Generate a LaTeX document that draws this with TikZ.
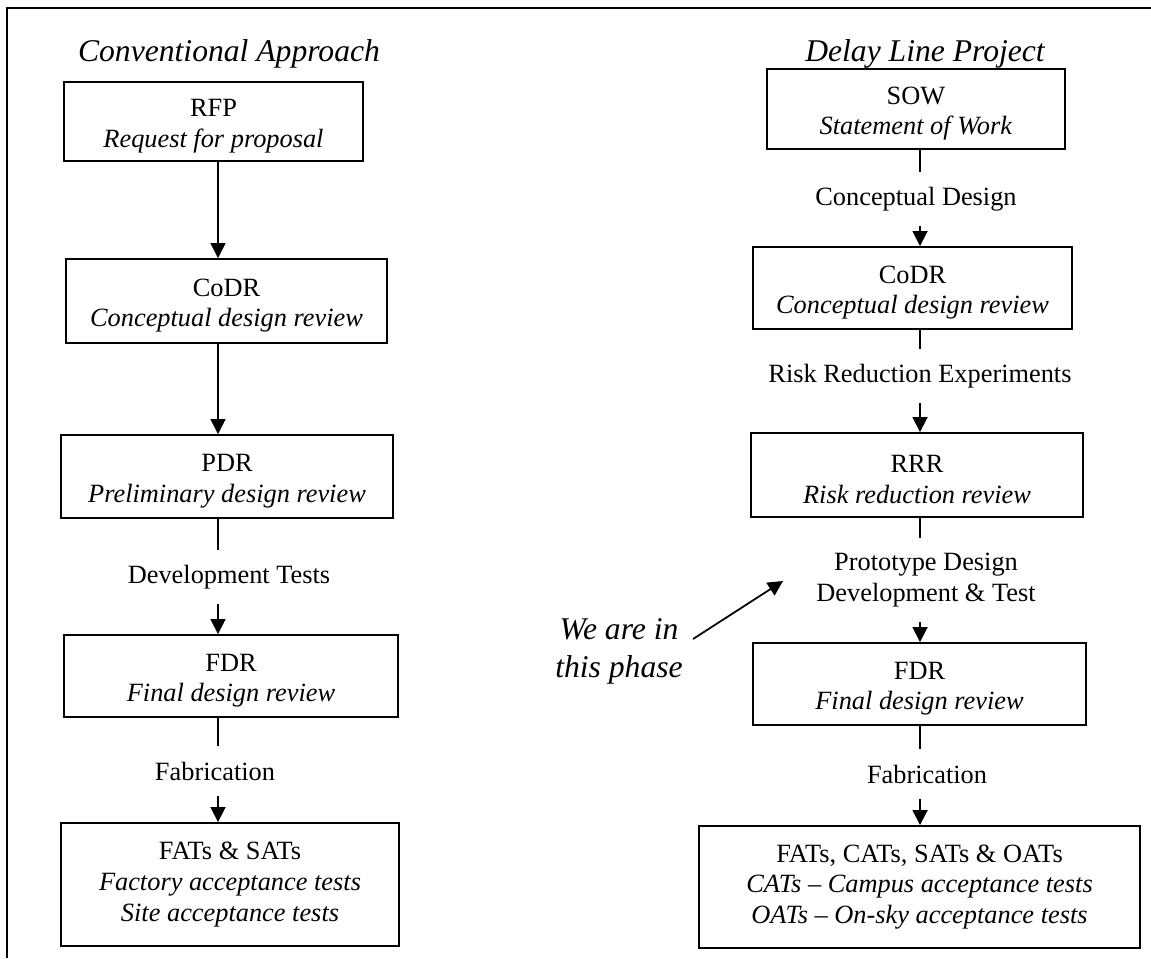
\documentclass[tikz,border=0pt]{standalone}
\usepackage{fontspec}
\setmainfont{Liberation Serif}
\usetikzlibrary{arrows.meta}

\newcommand{\revtop}{\rule{0pt}{15pt}}

\begin{document}
\begin{tikzpicture}[x=0.02cm, y=-0.02cm,
	>={Triangle[length=0.3cm,width=0.3cm]},
	stage/.style={draw, line width=1.1pt, align=center, inner sep=0pt,
		font=\fontsize{15}{17.4}\selectfont},
	activity/.style={align=center, inner xsep=0pt, inner ysep=0.3cm,
		font=\fontsize{15}{17.4}\selectfont},
	heading/.style={inner sep=0pt, font=\fontsize{18}{21.6}\selectfont\itshape},
	flow/.style={line width=1pt}]

% frame %{{{2

	\useasboundingbox (0,0) rectangle (1151,958);
	\draw[line width=1.1pt] (7,958) -- (7,8) -- (1151,8);

	\coordinate (spineL) at (218,0);
	\coordinate (spineR) at (920,0);

% conventional approach %{{{2

	\node[heading] (headL) at (229,54) {Conventional Approach};

	\node[stage, minimum width=5.98cm, minimum height=1.58cm] (RFP) at (213.5,121.5)
		{\revtop RFP\\ \textit{Request for proposal}};
	\node[stage, minimum width=6.42cm, minimum height=1.68cm] (CoDRl) at (226.5,301)
		{\revtop CoDR\\ \textit{Conceptual design review}};
	\node[stage, minimum width=6.64cm, minimum height=1.66cm] (PDR) at (227,476.5)
		{\revtop PDR\\ \textit{Preliminary design review}};
	\node[activity] (devL) at (229,577) {Development Tests};
	\node[stage, minimum width=6.68cm, minimum height=1.64cm] (FDRl) at (231,676)
		{\revtop FDR\\ \textit{Final design review}};
	\node[activity] (fabL) at (215,771) {Fabrication};
	\node[stage, minimum width=6.76cm, minimum height=2.46cm] (FATl) at (230,884.5)
		{FATs \& SATs\\ \textit{Factory acceptance tests}\\ \textit{Site acceptance tests}};

	\draw[flow, ->] (RFP.south -| spineL) -- (CoDRl.north -| spineL);
	\draw[flow, ->] (CoDRl.south -| spineL) -- (PDR.north -| spineL);
	\draw[flow] (PDR.south -| spineL) -- (devL.north -| spineL);
	\draw[flow, ->] (devL.south -| spineL) -- (FDRl.north -| spineL);
	\draw[flow] (FDRl.south -| spineL) -- (fabL.north -| spineL);
	\draw[flow, ->] (fabL.south -| spineL) -- (FATl.north -| spineL);

% delay line project %{{{2

	\node[heading] (headR) at (925,54) {Delay Line Project};

	\node[stage, minimum width=5.96cm, minimum height=1.6cm] (SOW) at (916,109)
		{\revtop SOW\\ \textit{Statement of Work}};
	\node[activity] (concR) at (916,199) {Conceptual Design};
	\node[stage, minimum width=6.38cm, minimum height=1.64cm] (CoDRr) at (912.5,288)
		{\revtop CoDR\\ \textit{Conceptual design review}};
	\node[activity] (riskR) at (920,376) {Risk Reduction Experiments};
	\node[stage, minimum width=6.64cm, minimum height=1.68cm] (RRR) at (917,475)
		{\revtop RRR\\ \textit{Risk reduction review}};
	\node[activity] (protoR) at (926,580) {Prototype Design\\ Development \& Test};
	\node[stage, minimum width=6.66cm, minimum height=1.64cm] (FDRr) at (919.5,684)
		{\revtop FDR\\ \textit{Final design review}};
	\node[activity] (fabR) at (927,774) {Fabrication};
	\node[stage, minimum width=8.82cm, minimum height=2.44cm] (FATr) at (919.5,887)
		{FATs, CATs, SATs \& OATs\\ \textit{CATs -- Campus acceptance tests}\\
		\textit{OATs -- On-sky acceptance tests}};

	\draw[flow] (SOW.south -| spineR) -- (concR.north -| spineR);
	\draw[flow, ->] (concR.south -| spineR) -- (CoDRr.north -| spineR);
	\draw[flow] (CoDRr.south -| spineR) -- (riskR.north -| spineR);
	\draw[flow, ->] (riskR.south -| spineR) -- (RRR.north -| spineR);
	\draw[flow] (RRR.south -| spineR) -- (protoR.north -| spineR);
	\draw[flow, ->] (protoR.south -| spineR) -- (FDRr.north -| spineR);
	\draw[flow] (FDRr.south -| spineR) -- (fabR.north -| spineR);
	\draw[flow, ->] (fabR.south -| spineR) -- (FATr.north -| spineR);

% current phase %{{{2

	\node[inner sep=0pt, align=center, font=\fontsize{18}{21.6}\selectfont\itshape]
		(phase) at (619,651) {We are in\\ this phase};
	\coordinate (phasetip) at (783,581);
	\draw[flow, ->] ([shift={(10,-12)}]phase.east) -- (phasetip);

\end{tikzpicture}
\end{document}
